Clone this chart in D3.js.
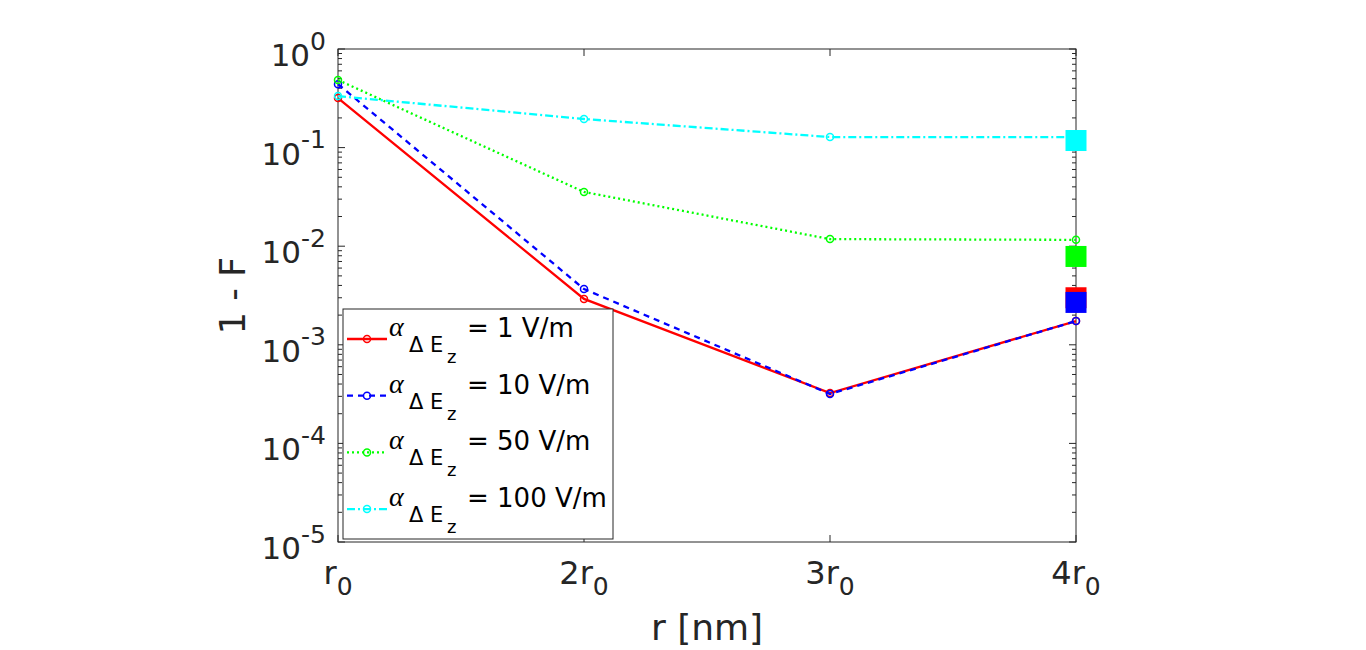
<!DOCTYPE html>
<html>
<head>
<meta charset="utf-8">
<script src="https://cdn.jsdelivr.net/npm/d3@7"></script>
<style>
  body { margin: 0; background: #fff; }
  text { font-family: "DejaVu Sans", sans-serif; fill: #262626; }
</style>
</head>
<body>
<div id="chart"></div>
<script>
// Data
const radii = [1, 2, 3, 4];
const radiusLabels = ["r", "2r", "3r", "4r"];
const yTickExps = [0, -1, -2, -3, -4, -5];
const fieldLabels = ["1", "10", "50", "100"];
const infid1 = [0.318, 0.00292, 3.24e-4, 1.74e-3];
const infid10 = [0.44, 3.68e-3, 3.17e-4, 1.74e-3];
const infid50 = [0.485, 0.0355, 0.0118, 0.0116];
const infid100 = [0.333, 0.195, 0.128, 0.128];
// big square markers at 4r0
const squareVals = [3.0e-3, 2.69e-3, 7.87e-3, 0.118];

const colors = ["#ff0000", "#0000ff", "#00ff00", "#00ffff"];
const dashes = [null, "6,5", "2,3", "8,3,2,3"];
const seriesVals = [infid1, infid10, infid50, infid100];

const width = 1366;
const height = 650;
const plotL = 338, plotR = 1076, plotT = 49, plotB = 542;

const svg = d3.select("#chart")
    .append("svg")
    .attr("width", width)
    .attr("height", height);

const x = d3.scaleLinear().domain([1, 4]).range([plotL, plotR]);
const y = d3.scaleLog().domain([1e-5, 1]).range([plotB, plotT]);

const axisCol = "#262626";

// y ticks (major + minor), both sides, inward
const minor = [];
for (let e = -5; e < 0; e++) {
    for (let m = 2; m <= 9; m++) minor.push(m * Math.pow(10, e));
}
const g = svg.append("g");
g.selectAll(".ymin").data(minor).enter().append("path")
    .attr("d", d => `M${plotL},${y(d)}h4M${plotR},${y(d)}h-4`)
    .attr("stroke", axisCol).attr("stroke-width", 1);
g.selectAll(".ymaj").data(yTickExps).enter().append("path")
    .attr("d", d => `M${plotL},${y(Math.pow(10, d))}h7M${plotR},${y(Math.pow(10, d))}h-7`)
    .attr("stroke", axisCol).attr("stroke-width", 1);
g.selectAll(".xmaj").data(radii).enter().append("path")
    .attr("d", d => `M${x(d)},${plotB}v-7M${x(d)},${plotT}v7`)
    .attr("stroke", axisCol).attr("stroke-width", 1);

// y tick labels 10^n
const yl = svg.selectAll(".ylab").data(yTickExps).enter().append("text")
    .attr("x", 326)
    .attr("y", d => y(Math.pow(10, d)) + 17)
    .attr("text-anchor", "end")
    .style("font-size", "31px");
yl.append("tspan").text("10");
yl.append("tspan").attr("dy", -16.5).style("font-size", "25px").text(d => d === 0 ? "0" : "-" + (-d));

// x tick labels r_0
const xl = svg.selectAll(".xlab").data(radii).enter().append("text")
    .attr("x", d => x(d))
    .attr("y", 584)
    .attr("text-anchor", "middle")
    .style("font-size", "32px");
xl.append("tspan").text((d, i) => radiusLabels[i]);
xl.append("tspan").attr("dy", 11).style("font-size", "25px").text("0");

// axis labels
svg.append("text")
    .attr("x", (plotL + plotR) / 2).attr("y", 640)
    .attr("text-anchor", "middle")
    .style("font-size", "36px")
    .text("r [nm]");
svg.append("text")
    .attr("transform", `translate(245,${(plotT + plotB) / 2}) rotate(-90)`)
    .attr("text-anchor", "middle")
    .style("font-size", "35px")
    .text("1 - F");

// box
svg.append("rect")
    .attr("x", plotL).attr("y", plotT)
    .attr("width", plotR - plotL).attr("height", plotB - plotT)
    .attr("fill", "none").attr("stroke", axisCol).attr("stroke-width", 1);

// lines + markers
const line = d3.line().x((d, i) => x(radii[i])).y(d => y(d));
seriesVals.forEach((vals, k) => {
    svg.append("path")
        .datum(vals)
        .attr("d", line)
        .attr("fill", "none")
        .attr("stroke", colors[k])
        .attr("stroke-width", 2.3)
        .attr("stroke-dasharray", dashes[k]);
    svg.selectAll(".m" + k).data(vals).enter().append("circle")
        .attr("cx", (d, i) => x(radii[i]))
        .attr("cy", d => y(d))
        .attr("r", 3.5)
        .attr("fill", "none")
        .attr("stroke", colors[k])
        .attr("stroke-width", 1.5);
});

// squares at 4r0
svg.selectAll(".sq").data(squareVals).enter().append("rect")
    .attr("x", x(4) - 10.5)
    .attr("y", d => y(d) - 10.5)
    .attr("width", 21).attr("height", 21)
    .attr("fill", (d, i) => colors[i]);

// legend
const lg = svg.append("g");
lg.append("rect")
    .attr("x", 343).attr("y", 309)
    .attr("width", 270).attr("height", 230)
    .attr("fill", "#fff").attr("stroke", axisCol).attr("stroke-width", 1);
fieldLabels.forEach((lab, k) => {
    const ly = 339 + k * 56.7;
    lg.append("line")
        .attr("x1", 347).attr("x2", 387).attr("y1", ly).attr("y2", ly)
        .attr("stroke", colors[k]).attr("stroke-width", 2.3)
        .attr("stroke-dasharray", dashes[k]);
    lg.append("circle")
        .attr("cx", 367).attr("cy", ly).attr("r", 3.5)
        .attr("fill", "none").attr("stroke", colors[k]).attr("stroke-width", 1.5);
    lg.append("text").attr("x", 389).attr("y", ly - 3)
        .style("font-family", "'Liberation Serif', serif").style("font-style", "italic")
        .style("font-size", "28px").style("fill", "#000").text("α");
    lg.append("text").attr("x", 409).attr("y", ly + 13)
        .style("font-size", "21px").style("fill", "#000").text("Δ E");
    lg.append("text").attr("x", 447).attr("y", ly + 24)
        .style("font-size", "18px").style("fill", "#000").text("z");
    lg.append("text").attr("x", 467).attr("y", ly - 2)
        .style("font-size", "26px").style("fill", "#000").text("= " + lab + " V/m");
});
</script>
</body>
</html>
